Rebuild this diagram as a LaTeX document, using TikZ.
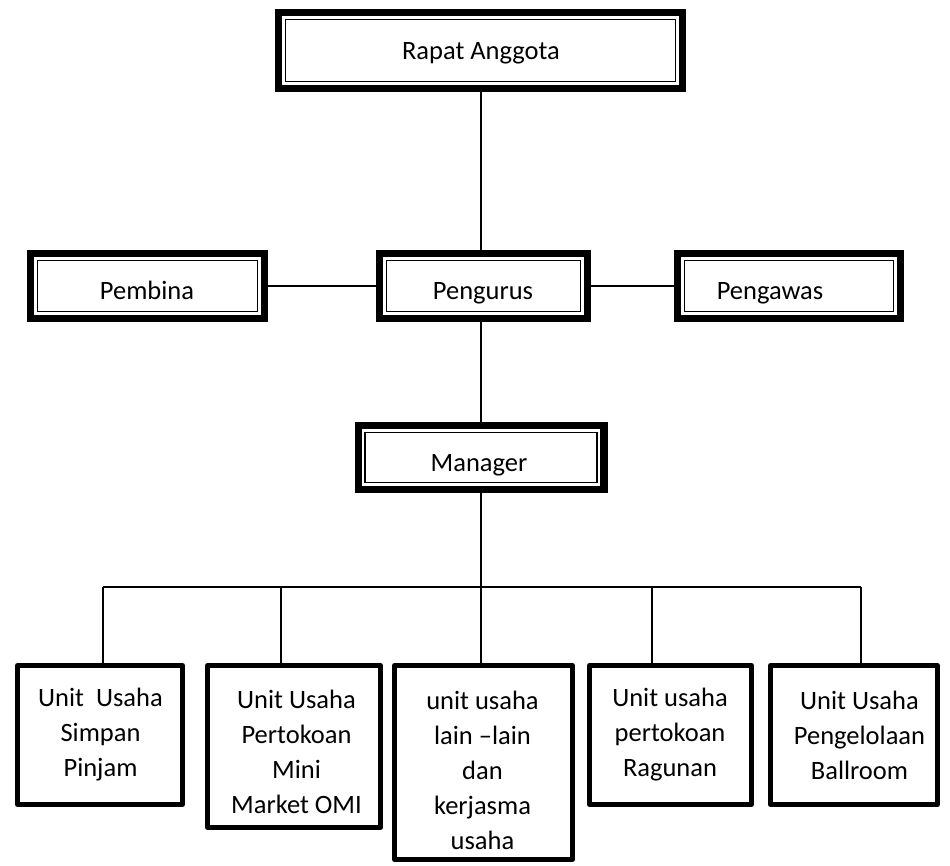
\documentclass[tikz,border=0pt]{standalone}
\usepackage{fontspec}
\setmainfont{Carlito}
\newcommand\dframe[1]{%
  \draw[line width=7.3pt] ([shift={(3.65pt,-3.65pt)}]#1.north west) rectangle ([shift={(-3.65pt,3.65pt)}]#1.south east);
  \draw[line width=1.8pt] ([shift={(10.5pt,-10.5pt)}]#1.north west) rectangle ([shift={(-10.5pt,10.5pt)}]#1.south east);}
\begin{document}
\begin{tikzpicture}[x=1pt,y=-1pt,
  fbox/.style={inner sep=0pt, outer sep=0pt},
  ubox/.style={draw, line width=5pt, line join=round, inner sep=0pt, outer sep=0pt},
  ltxt/.style={inner sep=0pt, font=\fontsize{26.5}{35}\selectfont, anchor=base},
  mtxt/.style={inner sep=0pt, font=\fontsize{26.5}{35}\selectfont, align=center},
  conn/.style={line width=1.4pt},
  hconn/.style={line width=2.6pt}]
\useasboundingbox[fill=white] (0,0) rectangle (950,866);

% double framed boxes
\node[fbox, minimum width=411pt, minimum height=83pt] (rapat) at (480.5,50.5) {};
\node[fbox, minimum width=241pt, minimum height=72pt] (pembina) at (147.5,286) {};
\node[fbox, minimum width=215pt, minimum height=72pt] (pengurus) at (483.5,286) {};
\node[fbox, minimum width=230pt, minimum height=72pt] (pengawas) at (789,286) {};
\node[fbox, minimum width=253pt, minimum height=71pt] (manager) at (481,457.5) {};
\dframe{rapat}\dframe{pembina}\dframe{pengurus}\dframe{pengawas}\dframe{manager}

\node[ltxt] (rapatT) at (481,60) {Rapat Anggota};
\node[ltxt] (pembinaT) at (147,300) {Pembina};
\node[ltxt] (pengurusT) at (483,300) {Pengurus};
\node[ltxt] (pengawasT) at (770,300) {Pengawas};
\node[ltxt] (managerT) at (479,471) {Manager};

% unit boxes
\node[ubox, minimum width=165pt, minimum height=139pt] (u1) at (100,735) {};
\node[ubox, minimum width=173pt, minimum height=162pt] (u2) at (294,746.5) {};
\node[ubox, minimum width=178pt, minimum height=194pt] (u3) at (483.5,762.5) {};
\node[ubox, minimum width=162pt, minimum height=139pt] (u4) at (670.5,735) {};
\node[ubox, minimum width=167pt, minimum height=139pt] (u5) at (854,735) {};

\node[mtxt] (t1) at (100.5,735) {Unit\ \ Usaha\\Simpan\\Pinjam};
\node[mtxt] (t2) at (296.5,752) {Unit Usaha\\Pertokoan\\Mini\\Market OMI};
\node[mtxt] (t3) at (482.5,770) {unit usaha\\lain –lain\\dan\\kerjasma\\usaha};
\node[mtxt] (t4) at (670,735) {Unit usaha\\pertokoan\\Ragunan};
\node[mtxt] (t5) at (859.5,735) {Unit Usaha\\Pengelolaan\\Ballroom};

% connectors
\coordinate (b1) at (103,587);
\coordinate (b2) at (281,587);
\coordinate (b3) at (481,587);
\coordinate (b4) at (652,587);
\coordinate (b5) at (861,587);
\draw[conn] (rapat.south -| manager.north) -- (pengurus.north -| manager.north);
\draw[hconn] (pembina.east) -- (pengurus.west);
\draw[hconn] (pengurus.east) -- (pengawas.west);
\draw[conn] (pengurus.south -| manager.north) -- (manager.north);
\draw[conn] (manager.south) -- (b3);
\draw[conn] (b1) -- (b5);
\draw[conn] (b1) -- (b1 |- u1.north);
\draw[conn] (b2) -- (b2 |- u2.north);
\draw[conn] (b3) -- (b3 |- u3.north);
\draw[conn] (b4) -- (b4 |- u4.north);
\draw[conn] (b5) -- (b5 |- u5.north);
\end{tikzpicture}
\end{document}
